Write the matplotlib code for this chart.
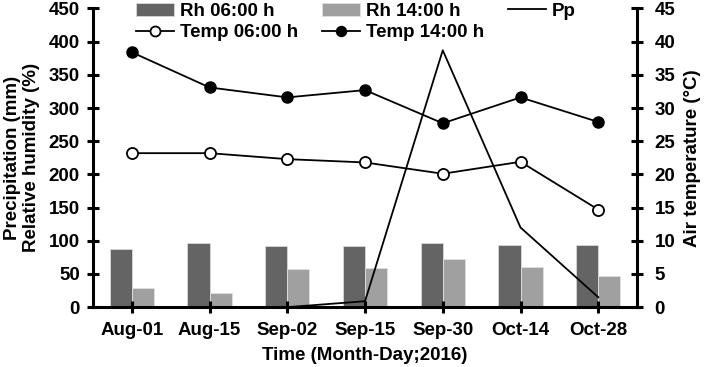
#!/usr/bin/env python3
# -*- coding: utf-8 -*-
'''
Relative humidity bars, precipitation and air temperature lines (2016).
'''
import numpy as np
import matplotlib
matplotlib.use('Agg')
import matplotlib.pyplot as plt

plt.rcParams['font.family'] = ['Liberation Sans', 'DejaVu Sans']
plt.rcParams['font.weight'] = 'bold'

dates = ['Aug-01', 'Aug-15', 'Sep-02', 'Sep-15', 'Sep-30', 'Oct-14', 'Oct-28']
rh_06 = [87, 96, 92, 92, 96, 93, 93.5]
rh_14 = [29, 21, 57.5, 58.5, 72.5, 60, 47]
pp = [np.nan, np.nan, 0, 9, 387, 120, 15]
temp_06 = [23.2, 23.2, 22.3, 21.8, 20.1, 21.9, 14.7]
temp_14 = [38.4, 33.1, 31.6, 32.7, 27.7, 31.6, 27.9]

FS = 13.5

fig = plt.figure(figsize=(7.04, 3.67), dpi=100)
ax = fig.add_axes([0.132, 0.163, 0.773, 0.814])
ax2 = ax.twinx()

x = np.arange(len(dates))
w = 0.285
b1 = ax.bar(x - w/2, rh_06, w, color='#646464', edgecolor='#d8d8d8', linewidth=0.6, label='Rh 06:00 h')
b2 = ax.bar(x + w/2, rh_14, w, color='#a0a0a0', edgecolor='#e0e0e0', linewidth=0.6, label='Rh 14:00 h')
l_pp, = ax.plot(x, pp, color='black', lw=1.3, label='Pp')

l06, = ax2.plot(x, temp_06, color='black', lw=1.3, marker='o', ms=8,
                mfc='white', mec='black', mew=1.3, label='Temp 06:00 h')
l14, = ax2.plot(x, temp_14, color='black', lw=1.3, marker='o', ms=8,
                mfc='black', mec='black', label='Temp 14:00 h')

ax.set_xlim(-0.5, 6.5)
ax.set_ylim(0, 450)
ax2.set_ylim(0, 45)
ax.set_yticks(np.arange(0, 451, 50))
ax2.set_yticks(np.arange(0, 46, 5))
ax.set_xticks(x)
ax.set_xticklabels(dates)

for a in (ax, ax2):
    a.spines['top'].set_visible(False)
    for s in a.spines.values():
        s.set_linewidth(2.2)
    a.tick_params(direction='inout', length=9, width=2.2, labelsize=FS, pad=5)
ax.spines['right'].set_visible(False)
ax2.spines['left'].set_visible(False)
ax2.spines['bottom'].set_visible(False)
ax.tick_params(axis='x', pad=6)
ax2.tick_params(axis='y', pad=8)

for lab in ax.get_xticklabels() + ax.get_yticklabels() + ax2.get_yticklabels():
    lab.set_fontweight('bold')

ax.set_ylabel('Precipitation (mm)\nRelative humidity (%)', fontsize=FS, fontweight='bold',
              labelpad=6, linespacing=1.15)
ax2.set_ylabel('Air temperature (\u00b0C)', fontsize=FS, fontweight='bold', labelpad=6)
ax.set_xlabel('Time (Month-Day;2016)', fontsize=FS, fontweight='bold', labelpad=6)

ax.legend([b1, l06, b2, l14, l_pp],
          ['Rh 06:00 h', 'Temp 06:00 h', 'Rh 14:00 h', 'Temp 14:00 h', 'Pp'],
          ncol=3, frameon=False, loc='upper left',
          bbox_to_anchor=(136 / 704, 1.0 - 2.5 / 367), bbox_transform=fig.transFigure,
          borderaxespad=0, borderpad=0, handlelength=2.0, handletextpad=0.32,
          columnspacing=1.3, labelspacing=0.23, markerscale=0.9,
          prop={'weight': 'bold', 'size': FS})

fig.savefig('out.png', dpi=100)
